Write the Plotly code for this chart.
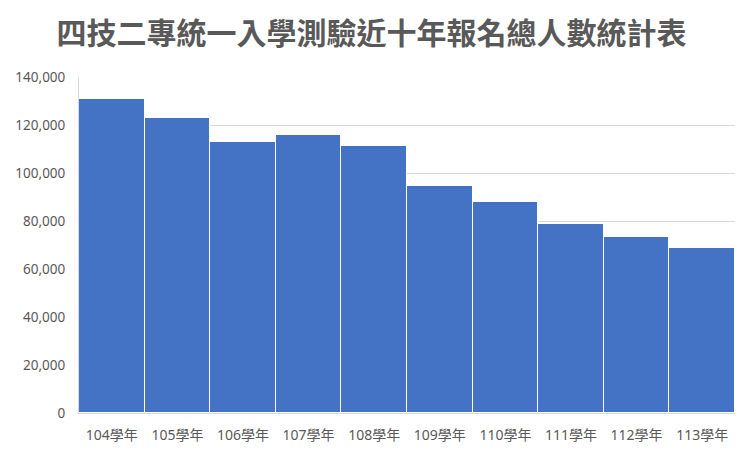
import plotly.graph_objects as go

# 四技二專統一入學測驗 報名人數
years = ['104學年', '105學年', '106學年', '107學年', '108學年',
         '109學年', '110學年', '111學年', '112學年', '113學年']
applicants = [130900, 122900, 113100, 115900, 111300,
              94600, 88000, 78800, 73400, 68800]

title_text = '四技二專統一入學測驗近十年報名總人數統計表'
y_ticks = [0, 20000, 40000, 60000, 80000, 100000, 120000, 140000]

fig = go.Figure()
fig.add_trace(go.Bar(x=years, y=applicants,
                     marker=dict(color='#4472C4', line=dict(color='white', width=1))))

# page body has an 8px margin, so the figure is sized / offset to fit the window
fig.update_layout(
    width=727, height=450,
    margin=dict(l=71, r=0, t=69, b=45, autoexpand=False),
    paper_bgcolor='white', plot_bgcolor='white',
    bargap=0,
    showlegend=False,
    title=dict(text=title_text, x=0.5, xanchor='center', y=0.943, yanchor='middle',
               font=dict(family='Noto Sans CJK TC', size=30, color='#595959', weight='bold')),
    font=dict(family='Noto Sans, Noto Sans CJK TC', size=13, color='#595959'),
)
fig.update_xaxes(showgrid=False, showline=True, linecolor='#d9d9d9', linewidth=1,
                 ticks='', ticklabelstandoff=9, automargin=False,
                 tickfont=dict(size=14))
fig.update_yaxes(range=[0, 140000], tickvals=y_ticks, tickformat=',',
                 showgrid=True, gridcolor='#d9d9d9', gridwidth=1,
                 showline=True, linecolor='#d9d9d9', zeroline=False,
                 ticks='', ticklabelstandoff=10, automargin=False,
                 tickfont=dict(size=13.5))

fig.write_html('out.html')
